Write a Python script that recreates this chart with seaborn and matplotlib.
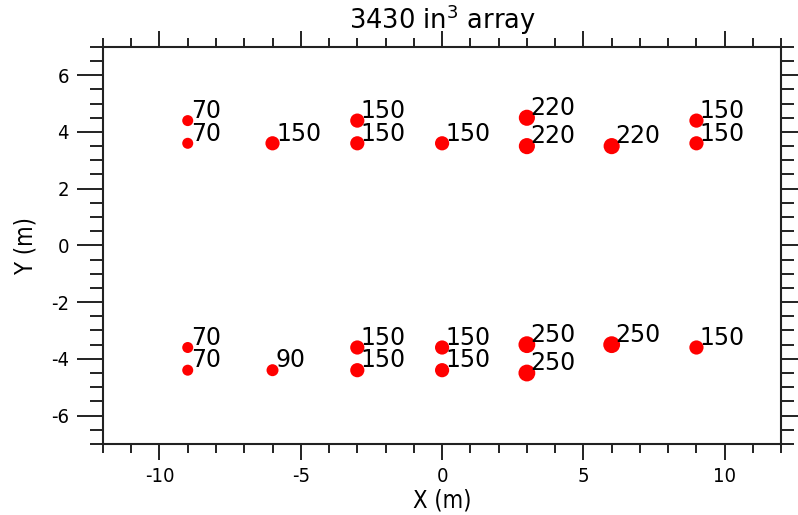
import matplotlib
matplotlib.use('Agg')
import matplotlib.pyplot as plt
import seaborn as sns
import pandas as pd
from matplotlib.ticker import MultipleLocator

# gun positions (m) and volumes (in^3)
x = [-9, -9, -6, -3, -3, 0, 3, 3, 6, 9, 9,
     -9, -9, -6, -3, -3, 0, 0, 3, 3, 6, 9]
y = [4.4, 3.6, 3.6, 4.4, 3.6, 3.6, 4.5, 3.5, 3.5, 4.4, 3.6,
     -3.6, -4.4, -4.4, -3.6, -4.4, -3.6, -4.4, -3.5, -4.5, -3.5, -3.6]
vol = [70, 70, 150, 150, 150, 150, 220, 220, 220, 150, 150,
       70, 70, 90, 150, 150, 150, 150, 250, 250, 250, 150]

df = pd.DataFrame({'x': x, 'y': y, 'vol': vol})

sns.set_style('ticks')
plt.rcParams['font.family'] = ['DejaVu Sans']
plt.rcParams['text.color'] = 'black'
plt.rcParams['axes.labelcolor'] = 'black'
plt.rcParams['xtick.color'] = 'black'
plt.rcParams['ytick.color'] = 'black'

fig = plt.figure(figsize=(7.98, 5.15), dpi=100)
ax = fig.add_axes([0.129, 0.138, 0.850, 0.771])

# marker diameter ~ cube root of volume
sizes = {v: 3.7 * v ** (2 / 3) for v in sorted(set(vol))}
sns.scatterplot(data=df, x='x', y='y', size='vol', sizes=sizes,
                color='#ff0000', edgecolor='none', linewidth=0,
                legend=False, ax=ax)

for xi, yi, v in zip(x, y, vol):
    ax.annotate(str(v), (xi, yi), xytext=(2.5, 2), textcoords='offset points',
                ha='left', va='baseline', fontsize=17, color='black')

ax.set_xlim(-12, 12)
ax.set_ylim(-7, 7)
ax.xaxis.set_major_locator(MultipleLocator(5))
ax.xaxis.set_minor_locator(MultipleLocator(1))
ax.yaxis.set_major_locator(MultipleLocator(2))
ax.yaxis.set_minor_locator(MultipleLocator(0.5))

for s in ax.spines.values():
    s.set_visible(True)
    s.set_linewidth(1.5)
    s.set_color('#222222')

ax.tick_params(which='both', direction='out', top=True, right=True,
               width=1.4, color='#222222', labelsize=14.5)
ax.tick_params(axis='x', which='major', length=11.5, pad=5)
ax.tick_params(axis='x', which='minor', length=6.5)
ax.tick_params(axis='y', which='major', length=18.5, pad=6)
ax.tick_params(axis='y', which='minor', length=9.5)
ax.set_xticklabels([str(int(t)) for t in ax.get_xticks()])
ax.set_yticklabels([str(int(t)) for t in ax.get_yticks()])
for lab in ax.get_xticklabels() + ax.get_yticklabels():
    lab.set_fontstretch('condensed')

ax.set_xlabel('X (m)', fontsize=17, labelpad=2, fontstretch='condensed')
ax.set_ylabel('Y (m)', fontsize=17, labelpad=10, fontstretch='condensed')
ax.set_title('3430 in$^3$ array', fontsize=18.5, pad=13)

fig.savefig('out.png', dpi=100)
